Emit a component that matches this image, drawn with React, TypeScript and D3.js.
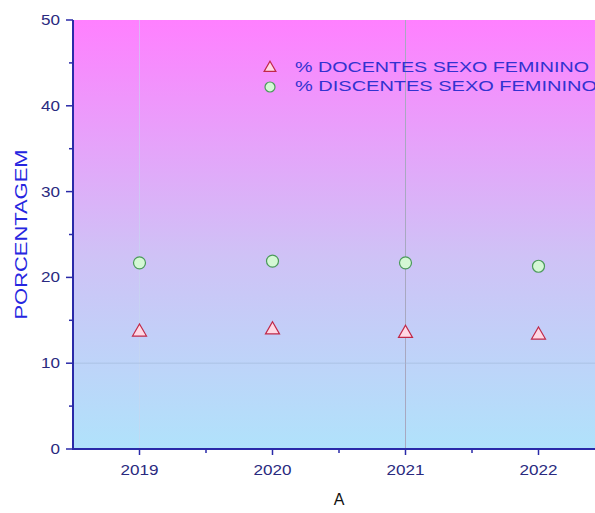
import React from "react";
import * as d3 from "d3";

const years = [2019, 2020, 2021, 2022];
const docentes = [13.75, 14.0, 13.6, 13.4];
const discentes = [21.7, 21.9, 21.7, 21.3];
const yTicks = [0, 10, 20, 30, 40, 50];
const yMinor = [5, 15, 25, 35, 45];
const xMinor = [2019.5, 2020.5, 2021.5];
const legendLabels = ["% DOCENTES SEXO FEMININO", "% DISCENTES SEXO FEMININO"];

export default function App() {
  const W = 595, H = 513;
  const left = 73, top = 20, bottom = 449, right = 605;
  const x = d3.scaleLinear().domain([2018.5, 2022.5]).range([left, right]);
  const y = d3.scaleLinear().domain([0, 50]).range([bottom, top]);
  const axisColor = "#2a2aa8";
  const labelColor = "#2a2a80";
  const tri = d3.symbol().type(d3.symbolTriangle).size(85)() as string;
  return (
    <svg width={W} height={H} style={{ position: "absolute", left: 0, top: 0, fontFamily: "Liberation Sans, Arial, sans-serif" }}>
      <defs>
        <linearGradient id="bg" x1="0" y1="0" x2="0" y2="1">
          <stop offset="0%" stopColor="#ff80ff" />
          <stop offset="55%" stopColor="#cfc2f6" />
          <stop offset="100%" stopColor="#b0e2fb" />
        </linearGradient>
      </defs>
      <rect x={left} y={top} width={right - left} height={bottom - top} fill="url(#bg)" />
      {/* grid lines */}
      <line x1={x(2019)} x2={x(2019)} y1={top} y2={bottom} stroke="#c8d8f0" strokeWidth={1} opacity={0.6} />
      <line x1={x(2021)} x2={x(2021)} y1={top} y2={bottom} stroke="#a8a8c0" strokeWidth={1} />
      <line x1={left} x2={right} y1={y(10)} y2={y(10)} stroke="#a0b8d8" strokeWidth={1} opacity={0.6} />
      {/* axes */}
      <line x1={left} x2={left} y1={top} y2={bottom + 1} stroke={axisColor} strokeWidth={2} />
      <line x1={left - 1} x2={right} y1={bottom} y2={bottom} stroke={axisColor} strokeWidth={2} />
      {yTicks.map((t) => (
        <g key={"yt" + t}>
          <line x1={left - 7} x2={left} y1={y(t)} y2={y(t)} stroke={axisColor} strokeWidth={1.5} />
          <text x={left - 13} y={y(t)} dy="0.36em" textAnchor="end" fontSize={14} fill={labelColor}
            textLength={String(t).length * 9.5} lengthAdjust="spacingAndGlyphs">{t}</text>
        </g>
      ))}
      {yMinor.map((t) => (
        <line key={"ym" + t} x1={left - 4} x2={left} y1={y(t)} y2={y(t)} stroke={axisColor} strokeWidth={1.5} />
      ))}
      {years.map((t) => (
        <g key={"xt" + t}>
          <line x1={x(t)} x2={x(t)} y1={bottom} y2={bottom + 6} stroke={axisColor} strokeWidth={1.5} />
          <text x={x(t)} y={bottom + 26} textAnchor="middle" fontSize={14} fill={labelColor}
            textLength={38} lengthAdjust="spacingAndGlyphs">{t}</text>
        </g>
      ))}
      {xMinor.map((t) => (
        <line key={"xm" + t} x1={x(t)} x2={x(t)} y1={bottom} y2={bottom + 4} stroke={axisColor} strokeWidth={1.5} />
      ))}
      <text x={339} y={505} textAnchor="middle" fontSize={16} fill="#111">A</text>
      <text transform={`translate(27,${(top + bottom) / 2}) rotate(-90)`} textAnchor="middle" fontSize={17} fill="#2626e0"
        textLength={170} lengthAdjust="spacingAndGlyphs">PORCENTAGEM</text>
      {/* data */}
      {years.map((yr, i) => (
        <circle key={"c" + yr} cx={x(yr)} cy={y(discentes[i])} r={6} fill="#d4f8d4" stroke="#4a9a5a" strokeWidth={1.2} />
      ))}
      {years.map((yr, i) => (
        <path key={"t" + yr} d={tri} transform={`translate(${x(yr)},${y(docentes[i]) + 1})`} fill="#ffd8e4" stroke="#c02848" strokeWidth={1.2} />
      ))}
      {/* legend */}
      <path d={d3.symbol().type(d3.symbolTriangle).size(60)() as string} transform="translate(270,68)" fill="#ffd8e4" stroke="#c02848" strokeWidth={1.2} />
      <circle cx={270} cy={87} r={5} fill="#d4f8d4" stroke="#4a9a5a" strokeWidth={1.2} />
      {legendLabels.map((l, i) => (
        <text key={l} x={295} y={67 + i * 19} dy="0.36em" fontSize={15} fill="#3232d0"
          textLength={i === 0 ? 294 : 302} lengthAdjust="spacingAndGlyphs">{l}</text>
      ))}
    </svg>
  );
}
